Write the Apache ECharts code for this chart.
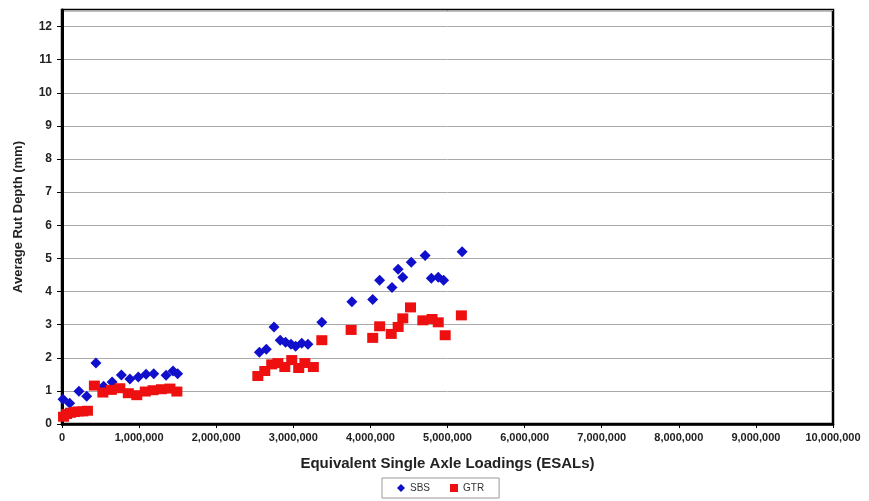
<!DOCTYPE html>
<html>
<head>
<meta charset="utf-8">
<script src="https://cdn.jsdelivr.net/npm/echarts@6/dist/echarts.min.js"></script>
<style>
  html, body { margin: 0; padding: 0; background: #fff; }
  #chart { width: 869px; height: 501px; }
</style>
</head>
<body>
<div id="chart"></div>
<script>
// Rut depth versus accumulated ESALs for the two binder sections
const sbsEsals = [
  13000, 100000, 220000, 320000, 440000, 540000, 650000, 770000, 880000, 990000,
  1090000, 1190000, 1350000, 1440000, 1500000,
  2560000, 2650000, 2750000, 2830000, 2900000, 2970000, 3030000, 3110000, 3190000, 3370000,
  3760000, 4030000, 4120000, 4280000, 4360000, 4420000, 4530000, 4710000, 4790000, 4880000, 4950000, 5190000
];
const sbsRut = [
  0.75, 0.63, 0.99, 0.84, 1.84, 1.14, 1.27, 1.48, 1.36, 1.42,
  1.5, 1.52, 1.47, 1.6, 1.52,
  2.17, 2.26, 2.93, 2.53, 2.47, 2.41, 2.35, 2.44, 2.41, 3.07,
  3.69, 3.76, 4.34, 4.12, 4.67, 4.43, 4.88, 5.09, 4.4, 4.43, 4.34, 5.2
];

const gtrEsals = [
  20000, 60000, 110000, 160000, 210000, 270000, 330000,
  420000, 530000, 640000, 750000, 860000, 970000, 1080000, 1180000, 1290000, 1400000, 1490000,
  2540000, 2630000, 2720000, 2800000, 2890000, 2980000, 3070000, 3150000, 3260000, 3370000,
  3750000, 4030000, 4120000, 4270000, 4360000, 4420000, 4520000, 4680000, 4800000, 4880000, 4970000, 5180000
];
const gtrRut = [
  0.22, 0.3, 0.34, 0.36, 0.38, 0.38, 0.4,
  1.16, 0.95, 1.03, 1.08, 0.93, 0.87, 0.98, 1.02, 1.05, 1.07, 0.98,
  1.45, 1.6, 1.8, 1.84, 1.72, 1.93, 1.69, 1.84, 1.72, 2.53,
  2.84, 2.6, 2.95, 2.72, 2.93, 3.19, 3.52, 3.13, 3.17, 3.07, 2.68, 3.28
];

const seriesNames = ['SBS', 'GTR'];
const xTicks = { min: 0, max: 10000000, step: 1000000 };
const yTicks = { min: 0, max: 12.5, step: 1 };

const pairs = (xs, ys) => xs.map((x, i) => [x, ys[i]]);
const boldText = { fontFamily: 'Liberation Sans, Arial, sans-serif', fontWeight: 'bold', color: '#222' };

const chart = echarts.init(document.getElementById('chart'), null, { renderer: 'canvas' });
chart.setOption({
  animation: false,
  backgroundColor: '#fff',
  grid: {
    left: 62, right: 36, top: 10, bottom: 77,
    show: true, borderColor: '#000', borderWidth: 2.5, backgroundColor: 'transparent'
  },
  legend: {
    bottom: 3, left: 382,
    data: [
      { name: 'SBS', icon: 'diamond' },
      { name: 'GTR', icon: 'rect' }
    ],
    itemWidth: 8, itemHeight: 8, itemGap: 20,
    padding: [5, 15, 5, 15],
    borderColor: '#999', borderWidth: 1,
    textStyle: { fontFamily: 'Liberation Sans, Arial, sans-serif', fontSize: 10, color: '#333' }
  },
  xAxis: {
    type: 'value',
    min: xTicks.min, max: xTicks.max, interval: xTicks.step,
    name: 'Equivalent Single Axle Loadings (ESALs)',
    nameLocation: 'middle', nameGap: 32,
    nameTextStyle: Object.assign({ fontSize: 15 }, boldText),
    axisLine: { show: true, lineStyle: { color: '#000', width: 2.5 } },
    axisTick: { show: true, length: 4, lineStyle: { color: '#000' } },
    axisLabel: Object.assign({
      fontSize: 11, margin: 8,
      formatter: v => v.toLocaleString('en-US')
    }, boldText),
    splitLine: { show: false }
  },
  yAxis: {
    type: 'value',
    min: yTicks.min, max: yTicks.max, interval: yTicks.step,
    name: 'Average Rut Depth (mm)',
    nameLocation: 'middle', nameGap: 37, nameRotate: 90,
    nameTextStyle: Object.assign({ fontSize: 13 }, boldText),
    axisLine: { show: true, lineStyle: { color: '#000', width: 3 } },
    axisTick: { show: true, length: 5, lineStyle: { color: '#000' } },
    axisLabel: Object.assign({ fontSize: 12, margin: 10, showMaxLabel: false }, boldText),
    splitLine: { show: true, lineStyle: { color: '#aaa', width: 1 } }
  },
  series: [
    {
      name: seriesNames[0], type: 'scatter', symbol: 'diamond', symbolSize: [11, 11],
      itemStyle: { color: '#1010cc', opacity: 1 },
      data: pairs(sbsEsals, sbsRut), z: 3
    },
    {
      name: seriesNames[1], type: 'scatter', symbol: 'rect', symbolSize: [11, 10],
      itemStyle: { color: '#ee1010', opacity: 1 },
      data: pairs(gtrEsals, gtrRut), z: 4
    }
  ]
});
</script>
</body>
</html>
